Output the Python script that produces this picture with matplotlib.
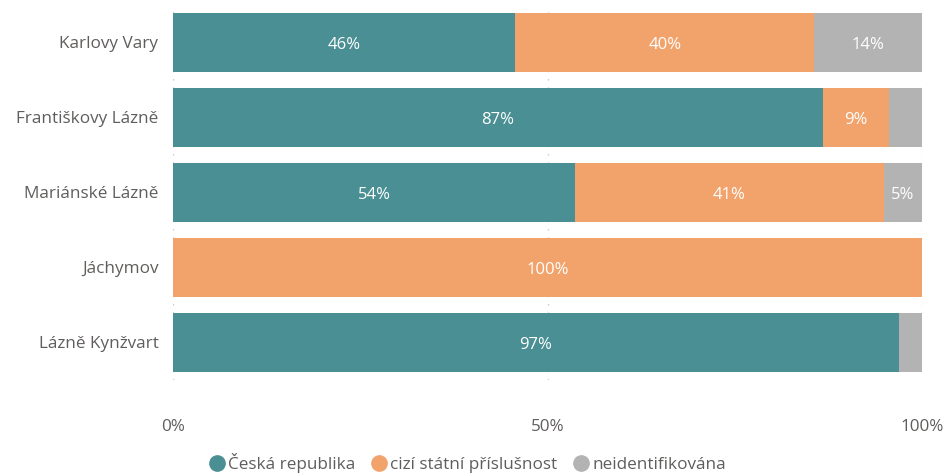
import matplotlib
matplotlib.use("Agg")
import matplotlib.pyplot as plt
from matplotlib.lines import Line2D

plt.rcParams['font.family'] = ['Open Sans', 'DejaVu Sans']

# data (percent shares)
towns = ["Karlovy Vary", "Františkovy Lázně", "Mariánské Lázně", "Jáchymov", "Lázně Kynžvart"]
ceska = [45.7, 86.8, 53.7, 0.0, 96.9]
cizi = [39.9, 8.8, 41.2, 100.0, 0.0]
neident = [14.4, 4.4, 5.1, 0.0, 3.1]
series_names = ["Česká republika", "cizí státní příslušnost", "neidentifikována"]
colors = ["#4A8F93", "#F2A36B", "#B3B3B3"]
text_col = "#605E5C"

fig = plt.figure(figsize=(9.48, 4.75), dpi=100)
ax = fig.add_axes([0.1825, 0.2, 0.7901, 0.7895])

y = list(range(len(towns)))
left = [0.0] * len(towns)
for vals, col in zip([ceska, cizi, neident], colors):
    ax.barh(y, vals, left=left, height=0.79, color=col, edgecolor="none", zorder=2)
    for i, v in enumerate(vals):
        if v >= 5:
            ax.text(left[i] + v / 2, i + 0.03, f"{round(v)}%", ha="center", va="center",
                    color="white", fontsize=12, zorder=3)
    left = [a + b for a, b in zip(left, vals)]

ax.set_xlim(0, 100)
ax.set_ylim(len(towns) - 0.5, -0.5)
ax.set_yticks(y)
ax.set_yticklabels(towns)
ax.set_xticks([0, 50, 100])
ax.set_xticklabels(["0%", "50%", "100%"])
ax.tick_params(axis="both", length=0, colors=text_col, labelsize=12.3)
ax.tick_params(axis="x", pad=28)
ax.tick_params(axis="y", pad=10.5)
for s in ax.spines.values():
    s.set_visible(False)
ax.xaxis.grid(True, linestyle=(0, (1, 5)), color="#C8C8C8", linewidth=1, zorder=0)

handles = [Line2D([], [], marker="o", linestyle="none", markersize=11,
                  markerfacecolor=c, markeredgecolor=c) for c in colors]
fig.legend(handles, series_names, loc="center", bbox_to_anchor=(0.49, 0.025),
           ncol=3, frameon=False, fontsize=12.3, handletextpad=-0.15,
           columnspacing=0.6, labelcolor=text_col, handlelength=1.6)

fig.savefig("out.png", dpi=100)
